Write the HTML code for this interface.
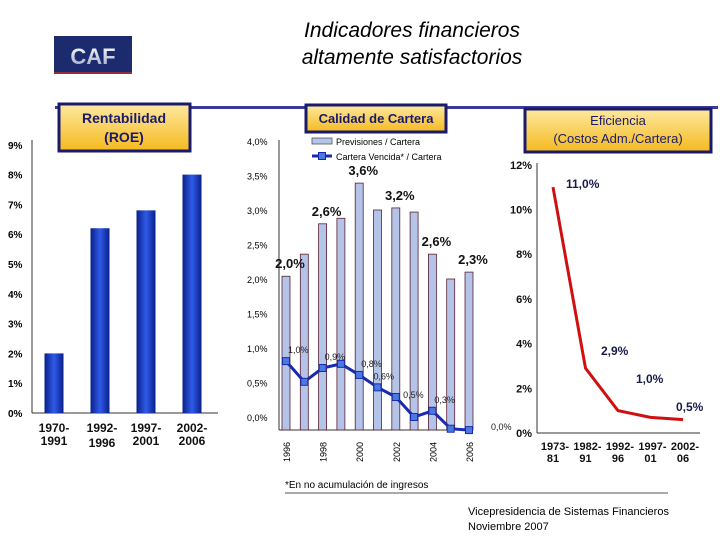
<!DOCTYPE html>
<html><head><meta charset="utf-8">
<style>
html,body{margin:0;padding:0;background:#fff;}
svg{display:block;font-family:"Liberation Sans",sans-serif;}
</style></head>
<body>
<svg id="c" width="720" height="540" viewBox="0 0 720 540" xmlns="http://www.w3.org/2000/svg">
<defs>
<linearGradient id="gold" x1="0" y1="0" x2="0" y2="1"><stop offset="0" stop-color="#fde9a0"/><stop offset="1" stop-color="#f5b91e"/></linearGradient>
<linearGradient id="barb" x1="0" y1="0" x2="1" y2="0"><stop offset="0" stop-color="#0a1f8a"/><stop offset="0.5" stop-color="#2f5be8"/><stop offset="1" stop-color="#0a1f8a"/></linearGradient>
<linearGradient id="caf" x1="0" y1="0" x2="0" y2="1"><stop offset="0" stop-color="#ffffff"/><stop offset="1" stop-color="#9aa6c8"/></linearGradient>
</defs>
<text x="412" y="37" text-anchor="middle" font-size="21" font-style="italic" fill="#000">Indicadores financieros</text>
<text x="412" y="64" text-anchor="middle" font-size="21" font-style="italic" fill="#000">altamente satisfactorios</text>
<g>
<rect x="54" y="36" width="78" height="36" fill="#1b2b6e"/>
<rect x="54" y="72" width="78" height="2" fill="#8a3040"/>
<text x="93" y="64" text-anchor="middle" font-size="22" font-weight="bold" fill="url(#caf)">CAF</text>
</g>
<rect x="55" y="106" width="663" height="3" fill="#3a3a9a"/>
<g id="roe"></g>
<g id="cal"></g>
<g id="efi"></g>
<g>
<rect x="59" y="104" width="131" height="47" fill="url(#gold)" stroke="#1a1a6a" stroke-width="3"/>
<text x="124" y="123" text-anchor="middle" font-size="14" font-weight="bold" fill="#1a1a6a">Rentabilidad</text>
<text x="124" y="142" text-anchor="middle" font-size="14" font-weight="bold" fill="#1a1a6a">(ROE)</text>
</g>
<g>
<rect x="306" y="105" width="140" height="27" fill="url(#gold)" stroke="#1a1a6a" stroke-width="3"/>
<text x="376" y="123" text-anchor="middle" font-size="13" fill="#1a1a6a" font-weight="bold">Calidad de Cartera</text>
</g>
<g>
<rect x="525" y="109" width="186" height="43" fill="url(#gold)" stroke="#1a1a6a" stroke-width="3"/>
<text x="618" y="125" text-anchor="middle" font-size="13" fill="#1a1a6a">Eficiencia</text>
<text x="618" y="143" text-anchor="middle" font-size="13" fill="#1a1a6a">(Costos Adm./Cartera)</text>
</g>
<text x="285" y="488" font-size="10" fill="#000">*En no acumulación de ingresos</text>
<line x1="285" y1="493" x2="668" y2="493" stroke="#555" stroke-width="1"/>
<text x="468" y="515" font-size="11" fill="#000">Vicepresidencia de Sistemas Financieros</text>
<text x="468" y="530" font-size="11" fill="#000">Noviembre 2007</text>
</svg>
<script>
// ROE data
const roeCats = [["1970-","1991"],["1992-","1996"],["1997-","2001"],["2002-","2006"]];
const roeVals = [2.0, 6.2, 6.8, 8.0];
const roeTicks = [0,1,2,3,4,5,6,7,8,9];
// Calidad data
const calYears = [1996,1997,1998,1999,2000,2001,2002,2003,2004,2005,2006];
const calPrev = [2.04,2.36,2.80,2.88,3.39,3.0,3.03,2.97,2.36,2.0,2.1];
const calVenc = [0.81,0.51,0.71,0.77,0.61,0.43,0.29,0.0,0.09,-0.17,-0.19];
const calTicks = [0,0.5,1,1.5,2,2.5,3,3.5,4];
const calPrevLabels = [["2,0%",0],["2,6%",2],["3,6%",4],["3,2%",6],["2,6%",8],["2,3%",10]];
const calVencLabels = [["1,0%",0],["0,9%",2],["0,8%",4],["0,6%",5],["0,5%",7],["0,3%",8],["0,0%",10]];
// Eficiencia data
const efiCats = [["1973-","81"],["1982-","91"],["1992-","96"],["1997-","01"],["2002-","06"]];
const efiVals = [11.0, 2.9, 1.0, 0.7, 0.6];
const efiLabels = ["11,0%","2,9%","1,0%","0,5%"];
const efiTicks = [0,2,4,6,8,10,12];

const NS="http://www.w3.org/2000/svg";
function mk(p,tag,a,txt){const e=document.createElementNS(NS,tag);for(const k in a)e.setAttribute(k,a[k]);if(txt!==undefined)e.textContent=txt;p.appendChild(e);return e;}

// ROE
(function(){
const g=document.getElementById('roe');
const y=v=>413-v*29.8, x=i=>54+i*46;
mk(g,'line',{x1:32,y1:140,x2:32,y2:413,stroke:'#333'});
mk(g,'line',{x1:32,y1:413,x2:218,y2:413,stroke:'#333'});
roeTicks.forEach(t=>{const e=mk(g,'text',{x:8,y:y(t)+4,'font-size':10,'font-weight':'bold',fill:'#000'},t+'%');

});
roeVals.forEach((v,i)=>{const b=mk(g,'rect',{x:x(i)-9.5,y:y(v),width:19,height:y(0)-y(v),fill:'url(#barb)'});


roeCats[i].forEach((s,j)=>{const t=mk(g,'text',{x:x(i)+(i==1?2:0),y:432+j*13+(i==1&&j==1?2:0),'text-anchor':'middle','font-size':12,'font-weight':'bold',fill:'#111'},s);

});});
})();

// Calidad
(function(){
const g=document.getElementById('cal');
const y=v=>417-v*69, x=i=>286+i*18.3;
mk(g,'line',{x1:279,y1:140,x2:279,y2:430,stroke:'#333'});
mk(g,'line',{x1:279,y1:430,x2:472,y2:430,stroke:'#333'});
calTicks.forEach(t=>{const e=mk(g,'text',{x:247,y:y(t)+4,'font-size':9,fill:'#000'},t.toFixed(1).replace('.',',')+'%');

});
calPrev.forEach((v,i)=>{const b=mk(g,'rect',{x:x(i)-4,y:y(v),width:8,height:430-y(v),fill:'#b4c4e8',stroke:'#5a2030','stroke-width':0.8});

});
calYears.forEach((yr,i)=>{if(i%2)return;const t=mk(g,'text',{transform:`translate(${x(i)+4},462) rotate(-90)`,'font-size':9,fill:'#000'},yr);

});
const pl=mk(g,'polyline',{points:calVenc.map((v,i)=>x(i)+','+y(v)).join(' '),fill:'none',stroke:'#1a2ab0','stroke-width':3});


calVenc.forEach((v,i)=>{const m=mk(g,'rect',{x:x(i)-3.5,y:y(v)-3.5,width:7,height:7,fill:'#4a7ae0',stroke:'#1a2ab0'});

});
calPrevLabels.forEach(([s,i])=>{const t=mk(g,'text',{x:x(i)+4,y:y(calPrev[i])-8,'text-anchor':'middle','font-size':13,'font-weight':'bold',fill:'#111'},s);

});
const dx={10:22,5:-4,7:-11};
calVencLabels.forEach(([s,i])=>{const t=mk(g,'text',{x:x(i)+(dx[i]!==undefined?dx[i]:2),y:y(calVenc[i])-8+(i==10?8:0)+(i==7?-11:0),'font-size':9,fill:'#222'},s);

});
mk(g,'rect',{x:312,y:138,width:20,height:6,fill:'#b4c4e8',stroke:'#555','stroke-width':0.8});
mk(g,'text',{x:336,y:145,'font-size':9,fill:'#000'},'Previsiones / Cartera');
mk(g,'line',{x1:312,y1:156,x2:332,y2:156,stroke:'#1a2ab0','stroke-width':3});
mk(g,'rect',{x:318.5,y:152.5,width:7,height:7,fill:'#4a7ae0',stroke:'#1a2ab0'});
mk(g,'text',{x:336,y:160,'font-size':9,fill:'#000'},'Cartera Vencida* / Cartera');
})();

// Eficiencia
(function(){
const g=document.getElementById('efi');
const y=v=>433-v*22.35, x=i=>553+i*32.5;
mk(g,'line',{x1:537,y1:163,x2:537,y2:433,stroke:'#333'});
mk(g,'line',{x1:537,y1:433,x2:700,y2:433,stroke:'#333'});
efiTicks.forEach(t=>{const e=mk(g,'text',{x:532,y:y(t)+4,'text-anchor':'end','font-size':11,'font-weight':'bold',fill:'#111'},t+'%');

});
const pl=mk(g,'polyline',{points:efiVals.map((v,i)=>x(i)+','+y(v)).join(' '),fill:'none',stroke:'#d01010','stroke-width':3});


const lp=[[566,188],[601,355],[636,383],[676,411]];
efiLabels.forEach((s,i)=>{const t=mk(g,'text',{x:lp[i][0],y:lp[i][1],'font-size':12,'font-weight':'bold',fill:'#1a1a4a'},s);

});
efiCats.forEach((c,i)=>c.forEach((s,j)=>{const t=mk(g,'text',{x:x(i)+(j==0?2:0),y:450+j*12,'text-anchor':'middle','font-size':11,'font-weight':'bold',fill:'#111'},s);

}));
})();
</script>
</body></html>
